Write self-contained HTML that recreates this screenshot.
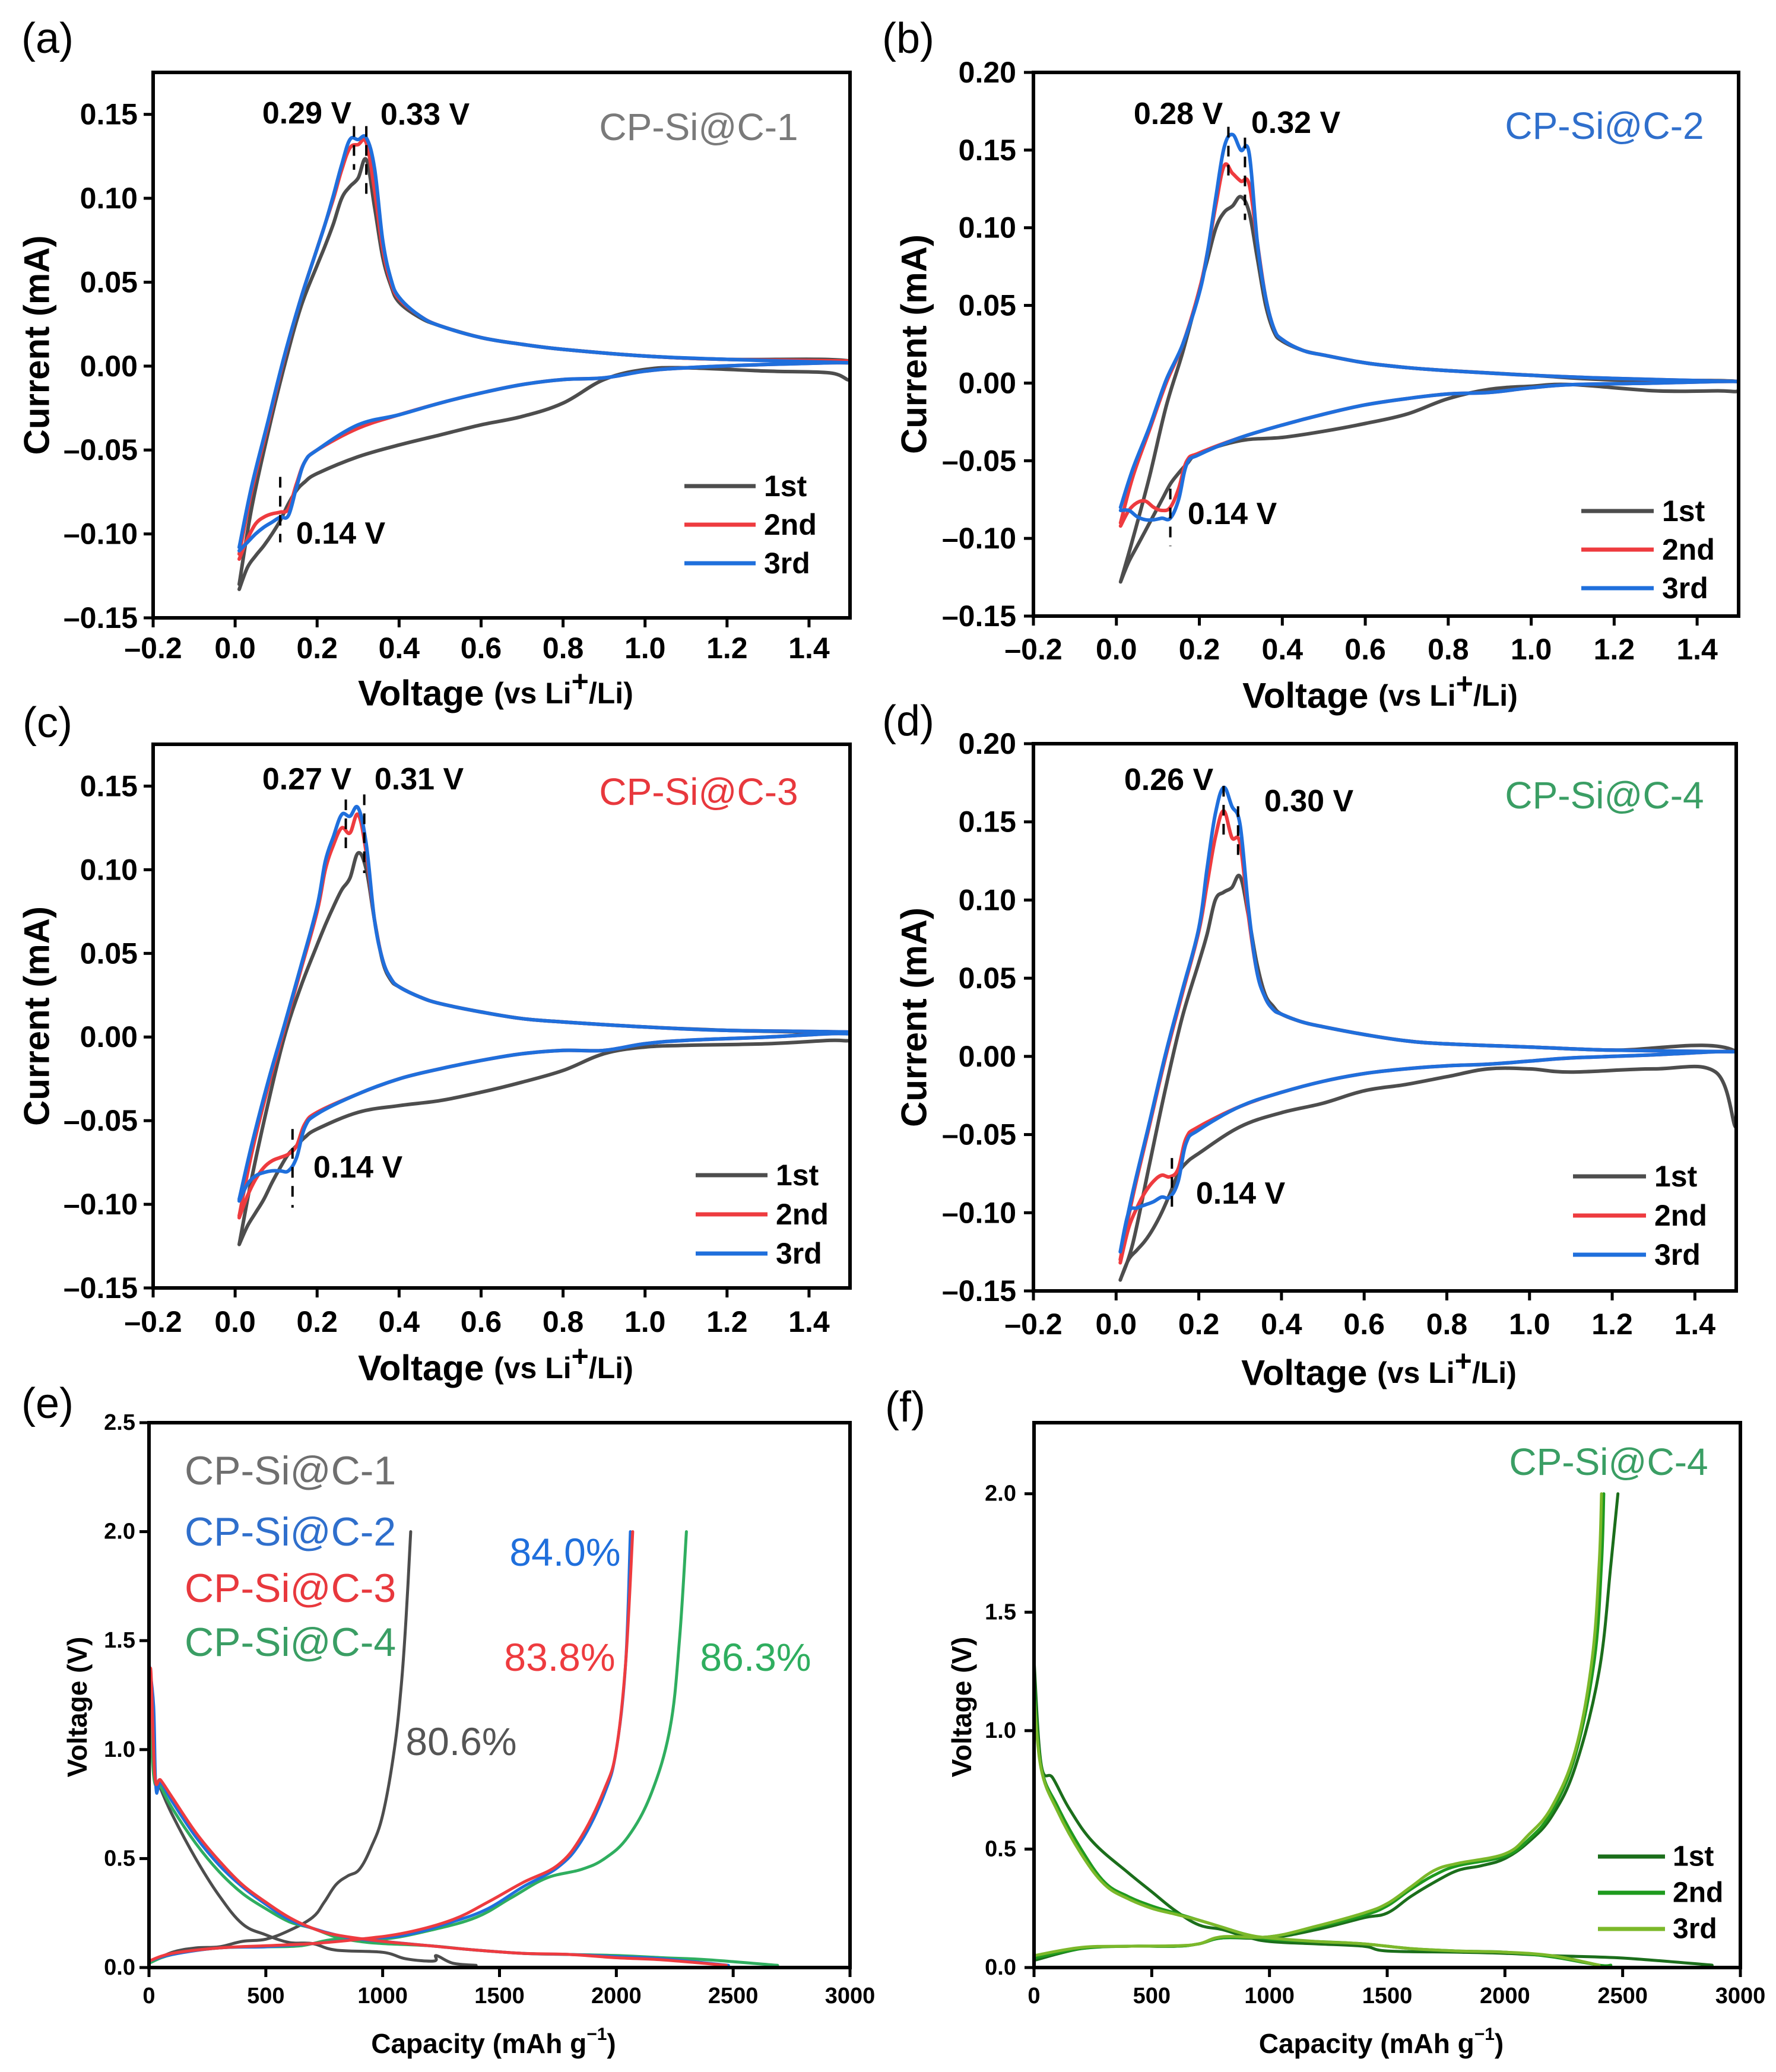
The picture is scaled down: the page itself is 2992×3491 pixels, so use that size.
<!DOCTYPE html>
<html><head><meta charset="utf-8">
<style>
html,body{margin:0;padding:0;background:#fff;}
svg{display:block;}
text{font-family:"Liberation Sans",Arial,sans-serif;}
</style></head>
<body>
<svg id="fig" xmlns="http://www.w3.org/2000/svg" width="2992" height="3491" viewBox="0 0 2992 3491"></svg>
<script>
// ---------- CV data ----------
const cvAnV = [0.01,0.04,0.08,0.12,0.16,0.2,0.22,0.24,0.26,0.28,0.30,0.32,0.34,0.36,0.38,0.4,0.45,0.5,0.6,0.7,0.8,1.0,1.2,1.5];
const cvCaV = [1.5,1.45,1.3,1.1,1.0,0.9,0.8,0.7,0.6,0.5,0.4,0.3,0.2,0.17,0.15,0.13,0.11,0.09,0.07,0.05,0.03,0.01];

const a1An = [-0.13,-0.085,-0.04,0.0,0.035,0.06,0.072,0.085,0.1,0.107,0.112,0.123,0.095,0.065,0.048,0.038,0.029,0.024,0.017,0.013,0.010,0.006,0.004,0.003];
const a2An = [-0.112,-0.075,-0.035,0.005,0.04,0.07,0.085,0.1,0.117,0.13,0.132,0.133,0.105,0.07,0.05,0.04,0.03,0.024,0.017,0.013,0.010,0.006,0.004,0.003];
const a3An = [-0.108,-0.072,-0.033,0.006,0.04,0.07,0.085,0.102,0.12,0.135,0.135,0.136,0.118,0.075,0.052,0.041,0.03,0.024,0.017,0.013,0.010,0.006,0.004,0.002];
const a1Ca = [-0.008,-0.004,-0.003,-0.001,-0.002,-0.008,-0.022,-0.03,-0.035,-0.041,-0.047,-0.054,-0.064,-0.069,-0.074,-0.082,-0.092,-0.1,-0.107,-0.113,-0.12,-0.133];
const a2Ca = [0.002,0.002,0.001,-0.001,-0.003,-0.007,-0.008,-0.011,-0.016,-0.022,-0.029,-0.037,-0.05,-0.057,-0.07,-0.085,-0.087,-0.088,-0.09,-0.094,-0.103,-0.115];
const a3Ca = [0.002,0.002,0.001,-0.001,-0.003,-0.007,-0.008,-0.011,-0.016,-0.022,-0.029,-0.035,-0.05,-0.057,-0.072,-0.089,-0.09,-0.093,-0.096,-0.1,-0.105,-0.11];

const b1An = [-0.128,-0.1,-0.06,-0.015,0.02,0.06,0.08,0.1,0.11,0.114,0.12,0.11,0.08,0.05,0.033,0.027,0.021,0.018,0.013,0.01,0.008,0.005,0.002,0.001];
const b2An = [-0.09,-0.06,-0.03,0.0,0.025,0.06,0.085,0.115,0.14,0.135,0.13,0.128,0.09,0.055,0.035,0.028,0.021,0.018,0.013,0.01,0.008,0.005,0.003,0.001];
const b3An = [-0.08,-0.055,-0.028,0.002,0.025,0.058,0.085,0.12,0.152,0.16,0.15,0.148,0.09,0.055,0.035,0.028,0.021,0.018,0.013,0.01,0.008,0.005,0.003,0.001];
const b1Ca = [-0.005,-0.005,-0.005,-0.001,-0.002,-0.004,-0.01,-0.02,-0.026,-0.031,-0.035,-0.037,-0.045,-0.052,-0.058,-0.065,-0.075,-0.085,-0.095,-0.105,-0.115,-0.128];
const b2Ca = [0.001,0.001,0.0,-0.001,-0.003,-0.006,-0.007,-0.01,-0.014,-0.02,-0.027,-0.035,-0.045,-0.05,-0.068,-0.08,-0.082,-0.08,-0.076,-0.077,-0.082,-0.092];
const b3Ca = [0.001,0.001,0.0,-0.001,-0.003,-0.006,-0.007,-0.01,-0.014,-0.02,-0.027,-0.035,-0.046,-0.052,-0.075,-0.087,-0.087,-0.088,-0.088,-0.086,-0.082,-0.082];

const c1An = [-0.124,-0.085,-0.04,0.0,0.03,0.055,0.067,0.078,0.088,0.095,0.11,0.1,0.07,0.045,0.034,0.03,0.024,0.02,0.015,0.011,0.009,0.006,0.004,0.002];
const c2An = [-0.107,-0.07,-0.03,0.005,0.04,0.075,0.1,0.115,0.125,0.122,0.133,0.11,0.07,0.046,0.035,0.03,0.024,0.02,0.015,0.011,0.009,0.006,0.004,0.003];
const c3An = [-0.097,-0.065,-0.027,0.007,0.042,0.078,0.105,0.12,0.133,0.132,0.137,0.115,0.07,0.046,0.035,0.03,0.024,0.02,0.015,0.011,0.009,0.006,0.004,0.003];
const c1Ca = [-0.002,-0.002,-0.004,-0.005,-0.006,-0.01,-0.02,-0.027,-0.033,-0.038,-0.041,-0.045,-0.055,-0.06,-0.065,-0.07,-0.078,-0.087,-0.097,-0.105,-0.113,-0.124];
const c2Ca = [0.002,0.002,0.0,-0.002,-0.004,-0.008,-0.008,-0.01,-0.014,-0.019,-0.025,-0.034,-0.045,-0.052,-0.065,-0.07,-0.072,-0.074,-0.078,-0.085,-0.095,-0.108];
const c3Ca = [0.002,0.002,0.0,-0.002,-0.004,-0.008,-0.008,-0.01,-0.014,-0.019,-0.025,-0.034,-0.046,-0.054,-0.072,-0.08,-0.08,-0.08,-0.081,-0.083,-0.088,-0.098];

const d1An = [-0.143,-0.12,-0.07,-0.02,0.025,0.06,0.078,0.1,0.105,0.108,0.115,0.09,0.06,0.04,0.032,0.027,0.022,0.019,0.014,0.01,0.008,0.006,0.004,0.003];
const d2An = [-0.13,-0.09,-0.045,0.0,0.04,0.08,0.11,0.14,0.157,0.14,0.136,0.09,0.055,0.038,0.03,0.027,0.022,0.019,0.014,0.01,0.008,0.006,0.004,0.003];
const d3An = [-0.125,-0.087,-0.043,0.002,0.042,0.082,0.12,0.155,0.172,0.16,0.148,0.095,0.055,0.038,0.03,0.027,0.022,0.019,0.014,0.01,0.008,0.006,0.004,0.003];
const d1Ca = [-0.045,-0.01,-0.008,-0.01,-0.008,-0.008,-0.013,-0.018,-0.022,-0.03,-0.036,-0.045,-0.062,-0.068,-0.075,-0.088,-0.1,-0.11,-0.118,-0.124,-0.13,-0.143];
const d2Ca = [0.003,0.003,0.001,-0.001,-0.003,-0.005,-0.006,-0.008,-0.011,-0.016,-0.023,-0.032,-0.045,-0.052,-0.072,-0.077,-0.076,-0.08,-0.087,-0.097,-0.11,-0.132];
const d3Ca = [0.003,0.003,0.001,-0.001,-0.003,-0.005,-0.006,-0.008,-0.011,-0.016,-0.023,-0.032,-0.047,-0.055,-0.08,-0.09,-0.09,-0.093,-0.095,-0.097,-0.1,-0.125];

const cvXTicks = [-0.2,0.0,0.2,0.4,0.6,0.8,1.0,1.2,1.4];
const cvYTicksA = [-0.15,-0.10,-0.05,0.00,0.05,0.10,0.15];
const cvYTicksB = [-0.15,-0.10,-0.05,0.00,0.05,0.10,0.15,0.20];

// ---------- GCD data (e) ----------
const eG1DisCap = [0,20,50,100,200,300,400,500,600,700,800,1000,1100,1220,1230,1300,1400];
const eG1DisV   = [1.4,0.9,0.82,0.7,0.5,0.33,0.2,0.15,0.115,0.11,0.08,0.07,0.04,0.03,0.055,0.02,0.01];
const eG1ChCap  = [0,100,200,300,400,500,600,700,750,800,850,900,950,1000,1050,1080,1100,1120];
const eG1ChV    = [0.02,0.07,0.09,0.095,0.12,0.13,0.17,0.23,0.3,0.38,0.42,0.45,0.55,0.7,1.0,1.3,1.6,2.0];
const eB2DisCap = [0,20,30,50,100,200,300,400,500,600,700,800,900,1000,1200,1400,1600,1800,2000,2200,2480];
const eB2DisV   = [1.4,1.2,0.82,0.85,0.76,0.6,0.47,0.37,0.29,0.22,0.18,0.15,0.13,0.12,0.1,0.08,0.065,0.06,0.05,0.04,0.01];
const eB2ChCap  = [0,100,300,500,700,900,1100,1300,1450,1600,1750,1850,1950,2000,2040,2060];
const eB2ChV    = [0.03,0.06,0.09,0.095,0.11,0.13,0.15,0.21,0.27,0.37,0.46,0.58,0.8,1.0,1.4,2.0];
const eR3DisCap = [0,5,25,50,100,200,300,400,500,600,700,800,1000,1200,1400,1600,1800,2000,2200,2470];
const eR3DisV   = [0.1,1.35,0.88,0.86,0.78,0.62,0.49,0.38,0.3,0.23,0.18,0.15,0.12,0.1,0.08,0.065,0.06,0.045,0.035,0.01];
const eR3ChCap  = [0,100,300,500,700,900,1100,1300,1450,1600,1750,1850,1950,2000,2040,2070];
const eR3ChV    = [0.03,0.065,0.09,0.1,0.11,0.13,0.16,0.22,0.3,0.39,0.47,0.6,0.82,1.0,1.4,2.0];
const eN4DisCap = [0,20,50,100,200,300,400,500,600,700,800,900,1000,1200,1400,1600,1800,2000,2200,2400,2690];
const eN4DisV   = [1.3,0.88,0.83,0.73,0.57,0.44,0.34,0.27,0.21,0.18,0.14,0.12,0.11,0.1,0.08,0.065,0.06,0.055,0.045,0.035,0.01];
const eN4ChCap  = [0,100,300,500,650,800,1000,1200,1400,1550,1700,1850,1950,2050,2150,2230,2270,2300];
const eN4ChV    = [0.02,0.06,0.09,0.095,0.1,0.13,0.13,0.17,0.23,0.32,0.41,0.45,0.5,0.6,0.8,1.1,1.5,2.0];

// ---------- GCD data (f) ----------
const f1DisCap = [0,30,80,150,250,400,500,600,700,800,900,1000,1200,1400,1500,1800,2000,2200,2500,2880];
const f1DisV   = [1.3,0.86,0.8,0.67,0.53,0.4,0.32,0.24,0.18,0.16,0.13,0.11,0.1,0.09,0.07,0.065,0.06,0.05,0.04,0.01];
const f1ChCap  = [0,200,400,600,700,800,1000,1200,1400,1500,1600,1700,1800,1900,2000,2100,2200,2300,2400,2450,2480];
const f1ChV    = [0.03,0.08,0.09,0.09,0.1,0.125,0.125,0.16,0.21,0.23,0.3,0.36,0.41,0.43,0.46,0.53,0.64,0.85,1.25,1.7,2.0];
const f2DisCap = [0,30,100,200,300,400,500,600,700,800,900,1000,1200,1400,1600,1800,2000,2200,2400,2450];
const f2DisV   = [1.2,0.85,0.68,0.5,0.36,0.3,0.26,0.23,0.2,0.17,0.14,0.12,0.11,0.1,0.08,0.07,0.065,0.045,0.01,0.01];
const f2ChCap  = [0,200,400,600,700,800,1000,1200,1400,1500,1600,1700,1800,2000,2100,2200,2300,2380,2410,2420];
const f2ChV    = [0.04,0.08,0.09,0.09,0.1,0.125,0.13,0.17,0.22,0.26,0.33,0.39,0.43,0.47,0.54,0.66,0.9,1.3,1.7,2.0];
const f3DisCap = [0,30,100,200,300,400,500,600,700,800,900,1000,1200,1400,1600,1800,2000,2200,2400];
const f3DisV   = [1.15,0.84,0.66,0.48,0.35,0.29,0.25,0.225,0.2,0.17,0.14,0.125,0.11,0.1,0.08,0.07,0.065,0.05,0.01];
const f3ChCap  = [0,200,400,600,700,800,1000,1200,1400,1500,1600,1700,1800,2000,2100,2200,2300,2370,2400,2410];
const f3ChV    = [0.05,0.085,0.09,0.092,0.1,0.13,0.13,0.175,0.23,0.27,0.34,0.41,0.44,0.48,0.56,0.68,0.92,1.3,1.7,2.0];

const gcdXTicks = [0,500,1000,1500,2000,2500,3000];
const gcdYTicksE = [0.0,0.5,1.0,1.5,2.0,2.5];
const gcdYTicksF = [0.0,0.5,1.0,1.5,2.0];

// ---------- drawing ----------
const NS = 'http://www.w3.org/2000/svg';
const svg = document.getElementById('fig');
const defs = document.createElementNS(NS,'defs');
svg.appendChild(defs);
function mk(tag, attrs, parent){
  const el = document.createElementNS(NS, tag);
  for (const k in attrs) el.setAttribute(k, attrs[k]);
  (parent||svg).appendChild(el);
  return el;
}
function txt(s, x, y, size, opts, parent){
  const t = mk('text', {x:x, y:y, 'font-size':size, 'font-weight':(opts.bold?'bold':'normal'), fill:(opts.fill||'#000'), 'text-anchor':(opts.anchor||'middle'), 'dominant-baseline':'central'}, parent);
  if (opts.rot) t.setAttribute('transform', 'rotate(-90 '+x+' '+y+')');
  t.textContent = s;
  return t;
}
function smoothPath(pts){
  if (pts.length < 2) return '';
  let d = 'M'+pts[0][0].toFixed(1)+','+pts[0][1].toFixed(1);
  for (let i=0;i<pts.length-1;i++){
    const p0 = pts[i-1]||pts[i], p1=pts[i], p2=pts[i+1], p3=pts[i+2]||pts[i+1];
    const t = 0.18;
    const c1x = p1[0]+(p2[0]-p0[0])*t, c1y = p1[1]+(p2[1]-p0[1])*t;
    const c2x = p2[0]-(p3[0]-p1[0])*t, c2y = p2[1]-(p3[1]-p1[1])*t;
    d += ' C'+c1x.toFixed(1)+','+c1y.toFixed(1)+' '+c2x.toFixed(1)+','+c2y.toFixed(1)+' '+p2[0].toFixed(1)+','+p2[1].toFixed(1);
  }
  return d;
}
function fmt(v, n){ const s = Math.abs(v).toFixed(n); return (v < -1e-9 ? '\u2013' : '') + s; }

let clipN = 0;
function axes(P, xTicks, yTicks, xdec, ydec, tickSize, g){
  const sx = v => P.x0 + (v - P.xmin)/(P.xmax - P.xmin)*(P.x1 - P.x0);
  const sy = v => P.y1 - (v - P.ymin)/(P.ymax - P.ymin)*(P.y1 - P.y0);
  xTicks.forEach(v=>{
    const x = sx(v);
    const t = mk('line',{x1:x,y1:P.y1,x2:x,y2:P.y1+16,stroke:'#000','stroke-width':5},g);
    
    
    const l = txt(xdec===0 ? String(v) : fmt(v,xdec), x, P.xlabY, tickSize, {bold:true}, g);
    
    
  });
  yTicks.forEach(v=>{
    const y = sy(v);
    const t = mk('line',{x1:P.x0-16,y1:y,x2:P.x0,y2:y,stroke:'#000','stroke-width':5},g);
    
    
    const l = txt(fmt(v,ydec), P.ylabX, y, tickSize, {bold:true, anchor:'end'}, g);
    
    
  });
  const cid = 'clip'+(clipN++);
  const cp = mk('clipPath',{id:cid},defs);
  mk('rect',{x:P.x0,y:P.y0,width:P.x1-P.x0,height:P.y1-P.y0},cp);
  const inner = mk('g',{'clip-path':'url(#'+cid+')'},g);
  
  
  const box = mk('rect',{x:P.x0,y:P.y0,width:P.x1-P.x0,height:P.y1-P.y0,fill:'none',stroke:'#000','stroke-width':6},g);
  
  
  return {sx, sy, inner};
}
function series(xs, ys, S, color, width, name){
  const pts = xs.map((v,i)=>[S.sx(v), S.sy(ys[i])]);
  const p = mk('path',{d:smoothPath(pts),fill:'none',stroke:color,'stroke-width':width,'stroke-linejoin':'round','stroke-linecap':'round'},S.inner);
  
  
  return p;
}

const GRAY='#4d4d4d', RED='#ee3b3f', BLUE='#1f6fdc';

const cvPanels = [
 {id:'a', x0:258,x1:1432,y0:122,y1:1041, xmin:-0.2,xmax:1.5,ymin:-0.15,ymax:0.175, yt:cvYTicksA, xlabY:1092, ylabX:232, xtitY:1168, ytitX:62,
  label:[80,65], cur:[[a1An,a1Ca],[a2An,a2Ca],[a3An,a3Ca]], sample:'CP-Si@C-1', scol:'#7a7a7a', spos:[1177,214],
  ann:[['0.29 V',517,191],['0.33 V',716,193],['0.14 V',574,899]], marks:[[0.29,0.143,0.117],[0.32,0.143,0.1],[0.11,-0.066,-0.105]],
  leg:[1153,1273,819,65]},
 {id:'b', x0:1741,x1:2929,y0:122,y1:1038, xmin:-0.2,xmax:1.5,ymin:-0.15,ymax:0.20, yt:cvYTicksB, xlabY:1094, ylabX:1712, xtitY:1172, ytitX:1540,
  label:[1530,65], cur:[[b1An,b1Ca],[b2An,b2Ca],[b3An,b3Ca]], sample:'CP-Si@C-2', scol:'#2f6fcc', spos:[2703,212],
  ann:[['0.28 V',1985,192],['0.32 V',2183,207],['0.14 V',2076,866]], marks:[[0.27,0.165,0.13],[0.31,0.158,0.105],[0.13,-0.068,-0.105]],
  leg:[2664,2786,861,65]},
 {id:'c', x0:258,x1:1432,y0:1254,y1:2170, xmin:-0.2,xmax:1.5,ymin:-0.15,ymax:0.175, yt:cvYTicksA, xlabY:2227, ylabX:232, xtitY:2305, ytitX:62,
  label:[80,1218], cur:[[c1An,c1Ca],[c2An,c2Ca],[c3An,c3Ca]], sample:'CP-Si@C-3', scol:'#e8383d', spos:[1177,1334],
  ann:[['0.27 V',517,1313],['0.31 V',706,1313],['0.14 V',603,1967]], marks:[[0.27,0.142,0.108],[0.315,0.145,0.098],[0.14,-0.055,-0.102]],
  leg:[1172,1293,1980,66]},
 {id:'d', x0:1741,x1:2925,y0:1253,y1:2175, xmin:-0.2,xmax:1.5,ymin:-0.15,ymax:0.20, yt:cvYTicksB, xlabY:2231, ylabX:1712, xtitY:2313, ytitX:1540,
  label:[1530,1215], cur:[[d1An,d1Ca],[d2An,d2Ca],[d3An,d3Ca]], sample:'CP-Si@C-4', scol:'#3a9e64', spos:[2703,1340],
  ann:[['0.26 V',1969,1314],['0.30 V',2205,1350],['0.14 V',2090,2011]], marks:[[0.26,0.173,0.138],[0.295,0.16,0.125],[0.135,-0.065,-0.1]],
  leg:[2650,2773,1982,66]}
];

cvPanels.forEach(P=>{
  const g = mk('g',{});
  
  
  const pl = txt('('+P.id+')', P.label[0], P.label[1], 72, {}, g);
  
  
  const S = axes(P, cvXTicks, P.yt, 1, 2, 50, g);
  const xt = mk('text',{x:(P.x0+P.x1)/2-10,y:P.xtitY,'font-size':60,'font-weight':'bold','text-anchor':'middle','dominant-baseline':'central'},g);
  xt.innerHTML = 'Voltage <tspan font-size="50">(vs Li</tspan><tspan font-size="50" dy="-20">+</tspan><tspan font-size="50" dy="20">/Li)</tspan>';
  
  
  const yt = txt('Current (mA)', P.ytitX, (P.y0+P.y1)/2, 60, {bold:true, rot:true}, g);
  
  
  const cols = [GRAY, RED, BLUE], names=['1st','2nd','3rd'];
  P.cur.forEach((c,i)=>{
    const xs = cvAnV.concat(cvCaV), ys = c[0].concat(c[1]);
    series(xs, ys, S, cols[i], 6, 'cv-curve-'+names[i]);
  });
  P.marks.forEach(m=>{
    const ln = mk('line',{x1:S.sx(m[0]),y1:S.sy(m[1]),x2:S.sx(m[0]),y2:S.sy(m[2]),stroke:'#000','stroke-width':4,'stroke-dasharray':'18 14'},g);
    
    
  });
  P.ann.forEach(a=>{
    const t = txt(a[0], a[1], a[2], 52, {bold:true}, g);
    
    
  });
  const st = txt(P.sample, P.spos[0], P.spos[1], 64, {fill:P.scol}, g);
  
  
  names.forEach((n,i)=>{
    const y = P.leg[2] + i*P.leg[3];
    const l = mk('line',{x1:P.leg[0],y1:y,x2:P.leg[1],y2:y,stroke:cols[i],'stroke-width':7},g);
    
    
    const t = txt(n, P.leg[1]+14, y, 50, {bold:true, anchor:'start'}, g);
    
    
  });
});

// GCD panels
function gcdFrame(P, yTicks, id){
  const g = mk('g',{});
  
  
  const pl = txt('('+id+')', P.label[0], P.label[1], 72, {}, g);
  
  
  const S = axes(P, gcdXTicks, yTicks, 0, 1, 38, g);
  const xt = mk('text',{x:(P.x0+P.x1)/2-10,y:P.xtitY,'font-size':46,'font-weight':'bold','text-anchor':'middle','dominant-baseline':'central'},g);
  xt.innerHTML = 'Capacity (mAh g<tspan font-size="30" dy="-16">\u22121</tspan><tspan dy="16">)</tspan>';
  
  
  const yt = txt('Voltage (V)', P.ytitX, (P.y0+P.y1)/2+20, 46, {bold:true, rot:true}, g);
  
  
  return {g,S};
}
const PE = {x0:251,x1:1432,y0:2397,y1:3315,xmin:0,xmax:3000,ymin:0,ymax:2.5,xlabY:3363,ylabX:228,xtitY:3443,ytitX:130,label:[80,2365]};
const E = gcdFrame(PE, gcdYTicksE, 'e');
const GREEN='#2fae5f';
series(eG1DisCap,eG1DisV,E.S,GRAY,5,'discharge-cp-si-c-1');
series(eG1ChCap,eG1ChV,E.S,GRAY,5,'charge-cp-si-c-1');
series(eN4DisCap,eN4DisV,E.S,GREEN,5,'discharge-cp-si-c-4');
series(eN4ChCap,eN4ChV,E.S,GREEN,5,'charge-cp-si-c-4');
series(eB2DisCap,eB2DisV,E.S,BLUE,5,'discharge-cp-si-c-2');
series(eB2ChCap,eB2ChV,E.S,BLUE,5,'charge-cp-si-c-2');
series(eR3DisCap,eR3DisV,E.S,RED,5,'discharge-cp-si-c-3');
series(eR3ChCap,eR3ChV,E.S,RED,5,'charge-cp-si-c-3');
[['CP-Si@C-1',2478,'#6f6f6f'],['CP-Si@C-2',2581,'#2f6fcc'],['CP-Si@C-3',2676,'#e8383d'],['CP-Si@C-4',2767,'#3a9e64']].forEach(r=>{
  const t = txt(r[0], 311, r[1], 68, {anchor:'start', fill:r[2]}, E.g);
  
  
});
[['84.0%',952,2615,'#1f6fdc'],['83.8%',943,2792,'#ee3b3f'],['86.3%',1273,2792,'#2fae5f'],['80.6%',777,2934,'#555']].forEach(r=>{
  const t = txt(r[0], r[1], r[2], 66, {fill:r[3]}, E.g);
  
  
});

const PF = {x0:1742,x1:2932,y0:2397,y1:3315,xmin:0,xmax:3000,ymin:0,ymax:2.3,xlabY:3363,ylabX:1712,xtitY:3443,ytitX:1620,label:[1525,2371]};
const F = gcdFrame(PF, gcdYTicksF, 'f');
const FC = ['#1b6e1b','#1e9a1e','#7cb82a'];
series(f1DisCap,f1DisV,F.S,FC[0],5,'discharge-1st');
series(f1ChCap,f1ChV,F.S,FC[0],5,'charge-1st');
series(f2DisCap,f2DisV,F.S,FC[1],5,'discharge-2nd');
series(f2ChCap,f2ChV,F.S,FC[1],5,'charge-2nd');
series(f3DisCap,f3DisV,F.S,FC[2],5,'discharge-3rd');
series(f3ChCap,f3ChV,F.S,FC[2],5,'charge-3rd');
const fs = txt('CP-Si@C-4', 2710, 2463, 64, {fill:'#3a9e64'}, F.g);


['1st','2nd','3rd'].forEach((n,i)=>{
  const y = 3128 + i*61;
  const l = mk('line',{x1:2692,y1:y,x2:2805,y2:y,stroke:FC[i],'stroke-width':7},F.g);
  
  
  const t = txt(n, 2818, y, 48, {bold:true, anchor:'start'}, F.g);
  
  
});
</script>
</body></html>
